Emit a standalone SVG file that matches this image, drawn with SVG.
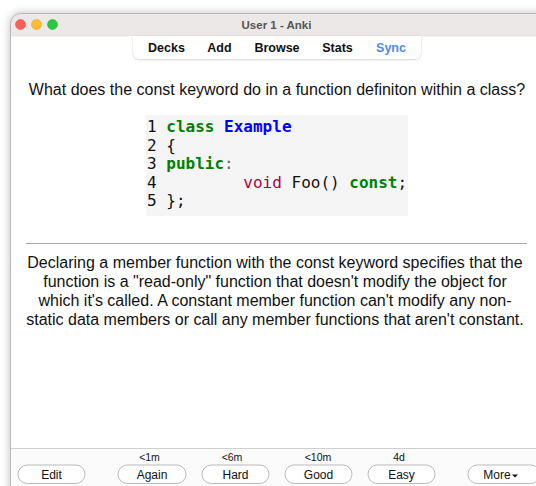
<svg xmlns="http://www.w3.org/2000/svg" width="536" height="486" viewBox="0 0 536 486">
<defs>
<filter id="shadow" x="-10%" y="-10%" width="120%" height="120%">
<feGaussianBlur stdDeviation="5"/>
</filter>
<filter id="tbshadow" x="-5%" y="-20%" width="110%" height="160%">
<feGaussianBlur stdDeviation="1.2"/>
</filter>
<clipPath id="win"><rect x="10" y="13" width="560" height="500" rx="10"/></clipPath>
<style>
.title{font-family:"Liberation Sans",Arial,sans-serif;font-size:11.5px;font-weight:bold;fill:#555;}
.tb{font-family:"Liberation Sans",Arial,sans-serif;font-size:12.5px;font-weight:bold;fill:#111;}
.q{font-family:"Liberation Sans",Arial,sans-serif;font-size:16px;fill:#111;}
.code{font-family:"DejaVu Sans Mono",monospace;font-size:16px;fill:#111;white-space:pre;}
.kw{fill:#008000;font-weight:bold;}
.cls{fill:#0000ff;font-weight:bold;}
.ty{fill:#b00040;}
.op{fill:#666;}
.btn{fill:#fff;stroke:#a9a9a9;stroke-width:0.8;}
.bl{font-family:"Liberation Sans",Arial,sans-serif;font-size:12px;fill:#111;}
.sm{font-family:"Liberation Sans",Arial,sans-serif;font-size:10.5px;fill:#111;}
</style>
</defs>
<rect x="0" y="0" width="536" height="486" fill="#ffffff"/>
<rect x="10" y="13" width="560" height="500" rx="10" fill="#000" opacity="0.25" filter="url(#shadow)"/>
<g clip-path="url(#win)">
<rect x="10" y="13" width="560" height="500" fill="#ffffff"/>
<rect x="10" y="13" width="560" height="23" fill="#ebe8e7"/>
<line x1="10" y1="36" x2="570" y2="36" stroke="#dedbda" stroke-width="0.5"/>
</g>
<rect x="10.5" y="13.5" width="560" height="500" rx="10" fill="none" stroke="#b8b8b8" stroke-width="1"/>
<g id="traffic">
<circle cx="20.5" cy="24.5" r="5" fill="#fe5f57" stroke="#e0443e" stroke-width="0.5"/>
<circle cx="36.5" cy="24.5" r="5" fill="#febc2e" stroke="#dea123" stroke-width="0.5"/>
<circle cx="52.5" cy="24.5" r="5" fill="#28c840" stroke="#1aab29" stroke-width="0.5"/>
</g>
<text class="title" x="276.5" y="28.5" text-anchor="middle">User 1 - Anki</text>
<g id="toolbar">
<path d="M133,36 H421 V53 a6,6 0 0 1 -6,6 H139 a6,6 0 0 1 -6,-6 Z" fill="#000" opacity="0.18" filter="url(#tbshadow)" transform="translate(0,0.8)"/>
<path d="M133,36 H421 V53 a6,6 0 0 1 -6,6 H139 a6,6 0 0 1 -6,-6 Z" fill="#fff"/>
<text class="tb" x="166.5" y="52" text-anchor="middle">Decks</text>
<text class="tb" x="219.5" y="52" text-anchor="middle">Add</text>
<text class="tb" x="277" y="52" text-anchor="middle">Browse</text>
<text class="tb" x="337.5" y="52" text-anchor="middle">Stats</text>
<text class="tb" x="391" y="52" text-anchor="middle" style="fill:#4d8af0">Sync</text>
</g>
<g id="question">
<text class="q" x="277" y="95" text-anchor="middle">What does the const keyword do in a function definiton within a class?</text>
</g>
<g id="code">
<rect x="146" y="115" width="262" height="101" fill="#f5f5f5"/>
<text class="code" x="147" y="132">1 <tspan class="kw">class</tspan> <tspan class="cls">Example</tspan></text>
<text class="code" x="147" y="150.5">2 {</text>
<text class="code" x="147" y="169">3 <tspan class="kw">public</tspan><tspan class="op">:</tspan></text>
<text class="code" x="147" y="187.5">4         <tspan class="ty">void</tspan> Foo() <tspan class="kw">const</tspan>;</text>
<text class="code" x="147" y="206">5 };</text>
</g>
<line x1="26" y1="243.5" x2="527" y2="243.5" stroke="#aaaaaa" stroke-width="1"/>
<g id="answer">
<text class="q" x="275" y="268" text-anchor="middle">Declaring a member function with the const keyword specifies that the</text>
<text class="q" x="275" y="287" text-anchor="middle">function is a "read-only" function that doesn't modify the object for</text>
<text class="q" x="275" y="306" text-anchor="middle">which it's called. A constant member function can't modify any non-</text>
<text class="q" x="275" y="325" text-anchor="middle">static data members or call any member functions that aren't constant.</text>
</g>
<g id="bottombar">
<rect x="11" y="448" width="525" height="38" fill="#fbfbfb"/>
<line x1="11" y1="448.5" x2="536" y2="448.5" stroke="#cfcfcf" stroke-width="1"/>
<text class="sm" x="149.5" y="461" text-anchor="middle">&lt;1m</text>
<text class="sm" x="232" y="461" text-anchor="middle">&lt;6m</text>
<text class="sm" x="318" y="461" text-anchor="middle">&lt;10m</text>
<text class="sm" x="399" y="461" text-anchor="middle">4d</text>
<g id="btn-edit"><rect class="btn" x="18" y="465" width="67" height="18.5" rx="9.25"/><text class="bl" x="51.5" y="478.5" text-anchor="middle">Edit</text></g>
<g id="btn-again"><rect class="btn" x="118" y="465" width="68" height="18.5" rx="9.25"/><text class="bl" x="152" y="478.5" text-anchor="middle">Again</text></g>
<g id="btn-hard"><rect class="btn" x="202" y="465" width="67" height="18.5" rx="9.25"/><text class="bl" x="235.5" y="478.5" text-anchor="middle">Hard</text></g>
<g id="btn-good"><rect class="btn" x="285" y="465" width="67" height="18.5" rx="9.25"/><text class="bl" x="318.5" y="478.5" text-anchor="middle">Good</text></g>
<g id="btn-easy"><rect class="btn" x="368" y="465" width="67" height="18.5" rx="9.25"/><text class="bl" x="401.5" y="478.5" text-anchor="middle">Easy</text></g>
<g id="btn-more"><rect class="btn" x="468" y="465" width="72" height="18.5" rx="9.25"/><text class="bl" x="497" y="478.5" text-anchor="middle">More</text><path d="M512,474.5 h6 l-3,3 z" fill="#111"/></g>
</g>
</svg>
